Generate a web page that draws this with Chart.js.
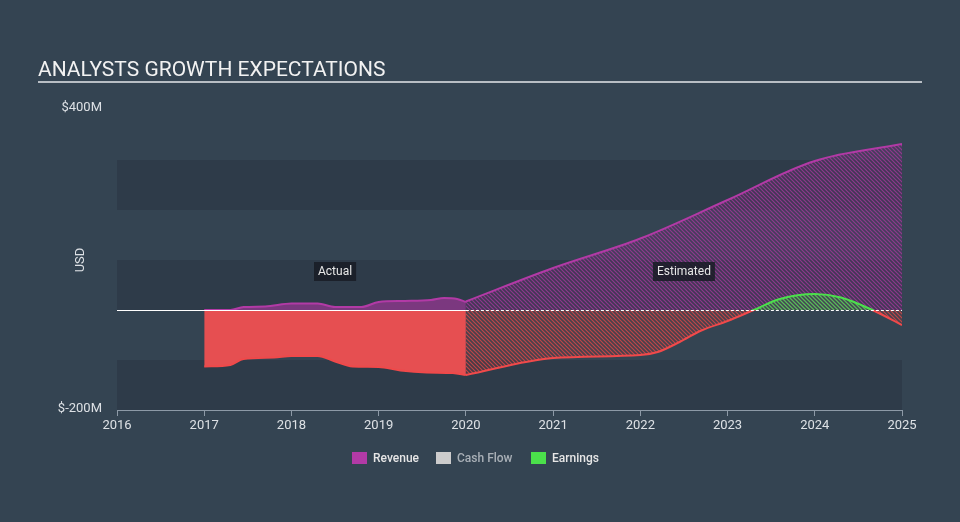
<!DOCTYPE html>
<html>
<head>
<meta charset="utf-8">
<script src="https://cdn.jsdelivr.net/npm/chart.js@4.4.0/dist/chart.umd.min.js"></script>
<style>
  html, body { margin: 0; padding: 0; background: #344452; }
  #wrap { position: relative; width: 960px; height: 522px; }
  canvas { display: block; }
</style>
</head>
<body>
<div id="wrap"><canvas id="growthChart" width="960" height="522"></canvas></div>
<script>
// years on the x axis
const yearTicks = [2016, 2017, 2018, 2019, 2020, 2021, 2022, 2023, 2024, 2025];

// Revenue (USD millions)
const revenueActualX = [2017, 2017.3, 2017.45, 2017.7, 2018, 2018.3, 2018.5, 2018.8, 2019, 2019.3, 2019.6, 2019.75, 2019.9, 2020];
const revenueActualY = [0, 0, 6, 7, 13, 13, 6, 6, 16, 18, 20, 24, 22, 16];
const revenueEstX = [2020, 2021, 2022, 2023, 2024, 2025];
const revenueEstY = [17, 84, 143, 220, 298, 332];

// Earnings (USD millions)
const earningsActualX = [2017, 2017.3, 2017.45, 2017.8, 2018, 2018.3, 2018.5, 2018.7, 2019, 2019.25, 2019.55, 2019.85, 2020];
const earningsActualY = [-113, -110, -98, -95, -92, -92, -103, -113, -114, -121, -125, -126, -130];
const earningsEstX = [2020, 2021, 2022, 2022.2, 2022.45, 2022.7, 2023, 2023.3, 2023.6, 2024, 2024.3, 2024.66, 2025];
const earningsEstY = [-130, -96, -90, -84, -64, -41, -22, 0, 22, 32, 25, 0, -30];

const toPoints = (xs, ys) => xs.map((x, i) => ({ x: x, y: ys[i] }));

// hatch pattern for the estimated areas
function hatch(lineColor, bgColor) {
    const c = document.createElement('canvas');
    c.width = 4; c.height = 4;
    const g = c.getContext('2d');
    g.fillStyle = bgColor;
    g.fillRect(0, 0, 4, 4);
    g.strokeStyle = lineColor;
    g.lineWidth = 1.2;
    g.beginPath();
    g.moveTo(0, 0); g.lineTo(4, 4);
    g.moveTo(-1, 3); g.lineTo(1, 5);
    g.moveTo(3, -1); g.lineTo(5, 1);
    g.stroke();
    return g.createPattern(c, 'repeat');
}

const purple = '#b23aa6';
const red = '#f0494a';
const green = '#4be04b';

// line colour switches from green to red at zero
function signColor(context) {
    const chart = context.chart;
    const area = chart.chartArea;
    if (!area) return red;
    const zero = chart.scales.y.getPixelForValue(0);
    const t = Math.min(Math.max((zero - area.top) / (area.bottom - area.top), 0), 1);
    const grad = chart.ctx.createLinearGradient(0, area.top, 0, area.bottom);
    grad.addColorStop(0, green);
    grad.addColorStop(t, green);
    grad.addColorStop(t, red);
    grad.addColorStop(1, red);
    return grad;
}

const bandsPlugin = {
    id: 'bands',
    beforeDraw(chart) {
        const ctx = chart.ctx;
        const area = chart.chartArea;
        const y = chart.scales.y;
        // title
        ctx.save();
        ctx.fillStyle = '#f2f2f2';
        ctx.font = '21px Roboto';
        ctx.textBaseline = 'alphabetic';
        ctx.fillText('ANALYSTS GROWTH EXPECTATIONS', 38, 76);
        ctx.fillStyle = '#b8bec4';
        ctx.fillRect(38, 81, 884, 2);
        // darker bands
        ctx.fillStyle = '#2e3b49';
        [[300, 200], [100, 0], [-100, -200]].forEach(b => {
            const t = y.getPixelForValue(b[0]);
            const bt = y.getPixelForValue(b[1]);
            ctx.fillRect(area.left, t, area.right - area.left, bt - t);
        });
        // y labels
        ctx.fillStyle = '#dde1e5';
        ctx.font = '13px Roboto';
        ctx.textAlign = 'right';
        ctx.textBaseline = 'middle';
        ctx.fillText('$400M', 102, y.getPixelForValue(400) - 2);
        ctx.fillText('$-200M', 102, y.getPixelForValue(-200) - 1);
        ctx.translate(81, 260);
        ctx.rotate(-Math.PI / 2);
        ctx.textAlign = 'center';
        ctx.fillText('USD', 0, 0);
        ctx.restore();
    },
    afterDatasetsDraw(chart) {
        const ctx = chart.ctx;
        const x = chart.scales.x;
        const y = chart.scales.y;
        const zero = Math.round(y.getPixelForValue(0)) + 0.5;
        ctx.save();
        ctx.strokeStyle = '#ffffff';
        ctx.lineWidth = 1;
        ctx.beginPath();
        ctx.moveTo(x.getPixelForValue(2016), zero);
        ctx.lineTo(x.getPixelForValue(2020), zero);
        ctx.stroke();
        ctx.setLineDash([3, 2]);
        ctx.beginPath();
        ctx.moveTo(x.getPixelForValue(2020), zero);
        ctx.lineTo(x.getPixelForValue(2025), zero);
        ctx.stroke();
        ctx.setLineDash([]);

        // Actual / Estimated tags
        ctx.font = '12px Roboto';
        ctx.textAlign = 'center';
        ctx.textBaseline = 'middle';
        [['Actual', 2018.5], ['Estimated', 2022.5]].forEach(l => {
            const cx = x.getPixelForValue(l[1]);
            const w = ctx.measureText(l[0]).width + 8;
            ctx.fillStyle = 'rgba(24, 28, 36, 0.85)';
            ctx.fillRect(cx - w / 2, 262, w, 19);
            ctx.fillStyle = '#e8e8e8';
            ctx.fillText(l[0], cx, 272);
        });

        // legend
        const items = [['Revenue', purple, '#e6e6e6'], ['Cash Flow', '#cccccc', '#a9b0b7'], ['Earnings', green, '#e6e6e6']];
        const lx = [352, 436, 531];
        ctx.font = '500 12px Roboto';
        ctx.textAlign = 'left';
        items.forEach((it, i) => {
            ctx.fillStyle = it[1];
            ctx.fillRect(lx[i], 452, 15, 12);
            ctx.fillStyle = it[2];
            ctx.fillText(it[0], lx[i] + 21, 458.5);
        });
        ctx.restore();
    }
};

window.addEventListener('DOMContentLoaded', function() {
    const ctx = document.getElementById('growthChart').getContext('2d');
    new Chart(ctx, {
        type: 'line',
        data: {
            datasets: [{
                label: 'Revenue actual',
                data: toPoints(revenueActualX, revenueActualY),
                borderColor: purple,
                backgroundColor: 'rgba(150, 56, 145, 0.75)',
                fill: 'origin',
                borderWidth: 2,
                pointRadius: 0,
                order: 2,
                cubicInterpolationMode: 'monotone'
            }, {
                label: 'Revenue estimated',
                data: toPoints(revenueEstX, revenueEstY),
                borderColor: purple,
                backgroundColor: hatch('rgba(170, 58, 160, 0.75)', 'rgba(100, 50, 110, 0.35)'),
                fill: 'origin',
                borderWidth: 2,
                pointRadius: 0,
                order: 2,
                tension: 0.35
            }, {
                label: 'Earnings actual',
                data: toPoints(earningsActualX, earningsActualY),
                borderColor: red,
                backgroundColor: 'rgba(236, 80, 82, 0.97)',
                fill: 'origin',
                borderWidth: 2,
                pointRadius: 0,
                order: 1,
                cubicInterpolationMode: 'monotone'
            }, {
                label: 'Earnings estimated',
                data: toPoints(earningsEstX, earningsEstY),
                borderColor: signColor,
                fill: {
                    target: 'origin',
                    above: hatch('rgba(80, 220, 80, 0.85)', 'rgba(60, 120, 70, 0.3)'),
                    below: hatch('rgba(222, 72, 72, 0.8)', 'rgba(110, 60, 65, 0.35)')
                },
                borderWidth: 2,
                pointRadius: 0,
                order: 0,
                cubicInterpolationMode: 'monotone'
            }]
        },
        options: {
            responsive: false,
            animation: false,
            layout: {
                padding: { left: 117, right: 58, top: 110, bottom: 0 }
            },
            plugins: {
                legend: { display: false },
                tooltip: { enabled: false }
            },
            scales: {
                x: {
                    type: 'linear',
                    min: 2016,
                    max: 2025,
                    afterFit: function(scale) { scale.height = 112; },
                    afterBuildTicks: function(scale) {
                        scale.ticks = yearTicks.map(v => ({ value: v }));
                    },
                    ticks: {
                        color: '#dde1e5',
                        font: { family: 'Roboto', size: 13 },
                        padding: 2,
                        maxRotation: 0,
                        callback: v => String(v)
                    },
                    grid: {
                        drawOnChartArea: false,
                        tickLength: 6,
                        color: '#8d9aa7'
                    },
                    border: { color: '#8d9aa7', width: 1 }
                },
                y: {
                    display: false,
                    min: -200,
                    max: 400
                }
            }
        },
        plugins: [bandsPlugin]
    });
});
</script>
</body>
</html>
